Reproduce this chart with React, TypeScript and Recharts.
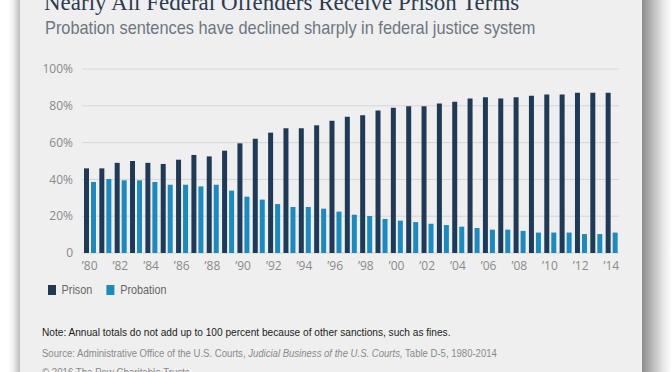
import type { CSSProperties, ReactNode } from "react";
import { Bar, BarChart, CartesianGrid, XAxis, YAxis } from "recharts";

// share of sentenced federal offenders, 1980-2014
const years = [
  "’80", "’81", "’82", "’83", "’84", "’85", "’86", "’87", "’88", "’89",
  "’90", "’91", "’92", "’93", "’94", "’95", "’96", "’97", "’98", "’99",
  "’00", "’01", "’02", "’03", "’04", "’05", "’06", "’07", "’08", "’09",
  "’10", "’11", "’12", "’13", "’14",
];
const prison = [
  46, 46, 49, 50, 49, 48.4, 50.7, 53.3, 52.5, 55.6,
  59.6, 62.1, 65.4, 67.8, 67.8, 69.4, 71.9, 74.1, 74.8, 77.4,
  79, 79.7, 79.7, 81.3, 82.2, 83.9, 84.6, 83.9, 84.6, 85.5,
  86.2, 86.2, 87.1, 87.1, 87.1,
];
const probation = [
  38.6, 40.2, 39.5, 39.5, 38.6, 37.1, 37.1, 36.2, 37.1, 33.9,
  30.6, 29, 26.6, 25, 25, 24.1, 22.5, 20.8, 20.1, 18.5,
  17.6, 16.8, 15.9, 15.2, 14.3, 13.6, 12.7, 12.7, 12, 11.1,
  11.1, 11.1, 10.3, 10.3, 11.1,
];
const yTicks = [0, 20, 40, 60, 80, 100];

const PRISON = "#1e3a57";
const PROBATION = "#1a8bc1";

const chartData = years.map((year, i) => ({ year, prison: prison[i], probation: probation[i] }));

// the original uses a condensed sans; squeeze Liberation Sans horizontally instead
function Narrow({ x, y, size, color, squeeze, children }: {
  x: number; y: number; size: number; color: string; squeeze: number; children: ReactNode;
}) {
  const style: CSSProperties = {
    position: "absolute",
    left: x,
    top: y,
    fontFamily: "'Liberation Sans', Arial, sans-serif",
    fontSize: size,
    lineHeight: `${Math.round(size * 1.2)}px`,
    color,
    whiteSpace: "nowrap",
    transform: `scaleX(${squeeze})`,
    transformOrigin: "0 0",
  };
  return <div style={style}>{children}</div>;
}

function LegendItem({ color, label }: { color: string; label: string }) {
  return (
    <span style={{ display: "inline-flex", alignItems: "center", marginRight: 18 }}>
      <span style={{ width: 10, height: 10, background: color, marginRight: 7 }} />
      <span>{label}</span>
    </span>
  );
}

export default function App() {
  const tick = { fontSize: 12, fill: "#8a8a8a", fontFamily: "'Open Sans', sans-serif" };

  return (
    <div style={{ position: "fixed", left: 0, top: 0, width: 672, height: 372, overflow: "hidden", background: "#fff" }}>
      {/* card + its drop shadows */}
      <div style={{ position: "absolute", left: 8, top: 0, width: 12, height: 372, background: "linear-gradient(to right, #fff, #f2f2f2 40%, #bdbdbd)" }} />
      <div style={{ position: "absolute", left: 642, top: 0, width: 30, height: 372, background: "linear-gradient(to right, #8c8c8c, #b4b4b4 30%, #e6e6e6 70%, #fff)" }} />
      <div style={{ position: "absolute", left: 20, top: 0, width: 622, height: 372, background: "#efefef" }} />

      <div style={{ position: "absolute", left: 44, top: -9, fontFamily: "'Liberation Serif', serif", fontSize: 23, lineHeight: "23px", color: "#2c3b4f", whiteSpace: "nowrap" }}>
        Nearly All Federal Offenders Receive Prison Terms
      </div>
      <Narrow x={45} y={16} size={19} color="#6d7683" squeeze={0.86}>
        Probation sentences have declined sharply in federal justice system
      </Narrow>

      <div style={{ position: "absolute", left: 0, top: 0 }}>
        <BarChart width={672} height={283} data={chartData} barSize={5} barGap={2} margin={{ top: 69, right: 53, left: 0, bottom: 0 }}>
          <CartesianGrid vertical={false} stroke="#d6d6d6" />
          <XAxis dataKey="year" interval={1} axisLine={false} tickLine={false} tickSize={0} tickMargin={8} height={30} tick={tick} />
          <YAxis
            domain={[0, 100]}
            ticks={yTicks}
            width={82}
            axisLine={false}
            tickLine={false}
            tickSize={0}
            tickMargin={9}
            tick={tick}
            tickFormatter={(v: number) => (v === 0 ? "0" : `${v}%`)}
          />
          <Bar dataKey="prison" fill={PRISON} isAnimationActive={false} />
          <Bar dataKey="probation" fill={PROBATION} isAnimationActive={false} />
        </BarChart>
      </div>

      <Narrow x={48} y={282} size={13.5} color="#666" squeeze={0.8}>
        <LegendItem color={PRISON} label="Prison" />
        <LegendItem color={PROBATION} label="Probation" />
      </Narrow>

      <Narrow x={42} y={325} size={11.5} color="#222" squeeze={0.88}>
        Note: Annual totals do not add up to 100 percent because of other sanctions, such as fines.
      </Narrow>
      <Narrow x={42} y={346} size={11.5} color="#8a8a8a" squeeze={0.83}>
        Source: Administrative Office of the U.S. Courts, <i>Judicial Business of the U.S. Courts,</i> Table D-5, 1980-2014
      </Narrow>
      <Narrow x={42} y={365} size={11.5} color="#8a8a8a" squeeze={0.84}>
        © 2016 The Pew Charitable Trusts
      </Narrow>
    </div>
  );
}
